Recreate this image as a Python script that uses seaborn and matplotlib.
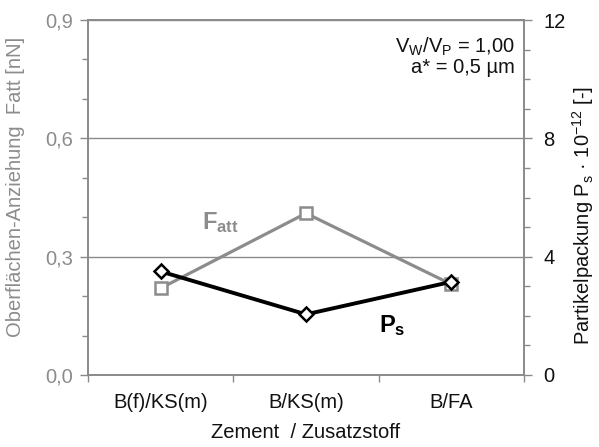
import matplotlib
matplotlib.use("Agg")
import matplotlib.pyplot as plt
import numpy as np
import pandas as pd
import seaborn as sns
from matplotlib.ticker import MultipleLocator, FixedLocator

categories = ["B(f)/KS(m)", "B/KS(m)", "B/FA"]
f_att = [0.22, 0.41, 0.23]          # Oberflächen-Anziehung [nN]
p_s = [3.5, 2.05, 3.15]             # Partikelpackung * 10^-12

sns.set_theme(style="white")
plt.rcParams["font.family"] = ["Liberation Sans", "DejaVu Sans"]
plt.rcParams["mathtext.fontset"] = "custom"
plt.rcParams["mathtext.rm"] = "Liberation Sans"
plt.rcParams["mathtext.it"] = "Liberation Sans:italic"
plt.rcParams["mathtext.bf"] = "Liberation Sans:bold"

gray = "#8c8c8c"
axis_gray = "#8a8a8a"
fs = 14.5

df = pd.DataFrame({"pos": np.arange(len(categories)), "cat": categories,
                   "f_att": f_att, "p_s": p_s})

fig = plt.figure(figsize=(5.99, 4.47), dpi=100)
ax = fig.add_axes([88 / 599, 1 - 375 / 447, (524 - 88) / 599, (375 - 20) / 447])
ax2 = ax.twinx()

sns.lineplot(data=df, x="pos", y="f_att", ax=ax, color=gray, linewidth=2.3,
             marker="s", markersize=8, markerfacecolor="white",
             markeredgecolor=gray, markeredgewidth=1.8)
sns.lineplot(data=df, x="pos", y="p_s", ax=ax2, color="black", linewidth=2.8,
             marker="D", markersize=7.5, markerfacecolor="white",
             markeredgecolor="black", markeredgewidth=1.8)

ax.set_xlim(-0.5, 2.5)
ax.set_ylim(0, 0.9)
ax2.set_ylim(0, 12)

# x: boundary ticks, labels centred between
ax.xaxis.set_major_locator(FixedLocator([-0.5, 0.5, 1.5, 2.5]))
ax.xaxis.set_minor_locator(FixedLocator(df["pos"]))
ax.set_xticklabels([""] * 4)
ax.set_xticklabels(categories, minor=True)
ax.tick_params(axis="x", which="major", direction="out", length=5, width=1,
               color=axis_gray, bottom=True)
ax.tick_params(axis="x", which="minor", length=0, labelsize=fs, pad=13,
               labelcolor="#111111")

ax.yaxis.set_major_locator(MultipleLocator(0.3))
ax.yaxis.set_minor_locator(MultipleLocator(0.1))
ax.yaxis.set_major_formatter(lambda v, p: f"{v:.1f}".replace(".", ","))
ax.tick_params(axis="y", which="major", direction="out", length=6, width=1,
               color=axis_gray, labelcolor=gray, labelsize=fs, left=True,
               pad=5)
ax.tick_params(axis="y", which="minor", direction="out", length=4, width=1,
               color=axis_gray, left=True)

ax2.yaxis.set_major_locator(MultipleLocator(4))
ax2.yaxis.set_minor_locator(MultipleLocator(1))
ax2.tick_params(axis="y", which="major", direction="out", length=6, width=1,
                color=axis_gray, labelcolor="#111111", labelsize=fs, right=True,
                pad=8)
ax2.tick_params(axis="y", which="minor", direction="out", length=4, width=1,
                color=axis_gray, right=True)

ax.grid(axis="y", which="major", color=axis_gray, linewidth=1)
ax.grid(axis="x", visible=False)
ax2.grid(False)
for a in (ax, ax2):
    for s in a.spines.values():
        s.set_color(axis_gray)
        s.set_linewidth(1.2)

ax.set_xlabel("Zement  / Zusatzstoff", fontsize=fs, color="#111111", labelpad=8)
ax.set_ylabel("Oberflächen-Anziehung  Fatt [nN]", fontsize=fs, color=gray)
ax.yaxis.set_label_coords(-0.145, 0.53)
ax2.set_ylabel(r"Partikelpackung P$_\mathrm{s}$ · 10$^{-12}$ [-]", fontsize=fs,
               color="#111111")
ax2.yaxis.set_label_coords(1.105, 0.45)

ax.text(0.303, 0.43, r"$\mathbf{F_{att}}$", transform=ax.transAxes,
        fontsize=17, color=gray, ha="center", va="center")
ax.text(0.697, 0.14, r"$\mathbf{P_{s}}$", transform=ax.transAxes,
        fontsize=17, color="black", ha="center", va="center")
ax.text(0.98, 0.924, r"V$_\mathrm{W}$/V$_\mathrm{P}$ = 1,00", transform=ax.transAxes,
        fontsize=fs, color="#111111", ha="right", va="center")
ax.text(0.98, 0.865, "a* = 0,5 µm", transform=ax.transAxes,
        fontsize=fs, color="#111111", ha="right", va="center")

fig.savefig("out.png", dpi=100)
